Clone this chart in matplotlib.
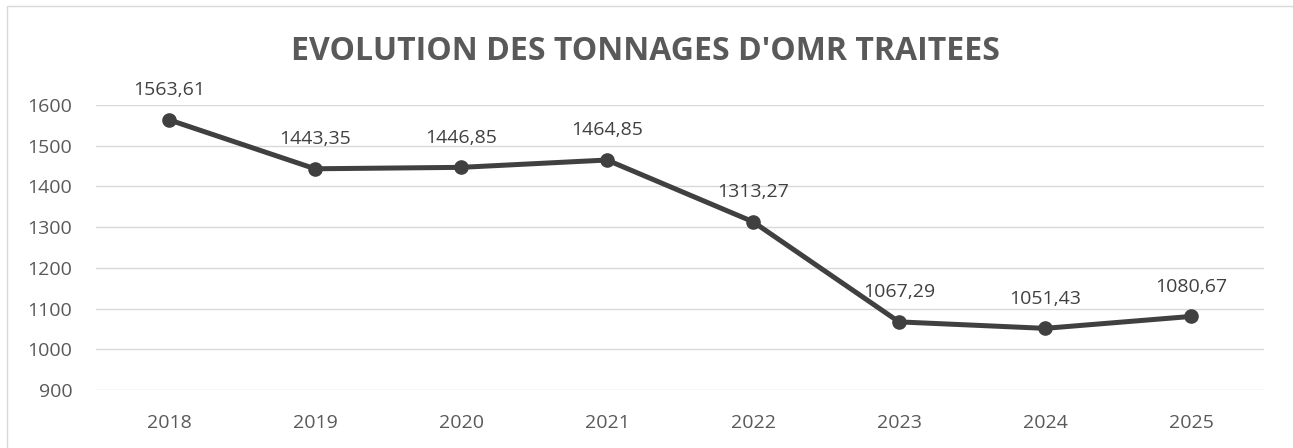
import matplotlib.pyplot as plt
from matplotlib.patches import Rectangle

annees = ['2018', '2019', '2020', '2021', '2022', '2023', '2024', '2025']
tonnages = [1563.61, 1443.35, 1446.85, 1464.85, 1313.27, 1067.29, 1051.43, 1080.67]
graduations = [900, 1000, 1100, 1200, 1300, 1400, 1500, 1600]

plt.rcParams['font.family'] = ['Open Sans', 'DejaVu Sans']

fig = plt.figure(figsize=(12.93, 4.48), dpi=100)
ax = fig.add_axes([96 / 1293, 1 - 390 / 448, (1264 - 96) / 1293, (390 - 105) / 448])

# cadre du graphique
fig.patches.append(Rectangle((7 / 1293, -0.1), 1.1, 1.1 - 6 / 448, transform=fig.transFigure,
                             fill=False, edgecolor='#d9d9d9', linewidth=1))

x = range(len(annees))
ax.plot(x, tonnages, color='#404040', linewidth=3.6, marker='o', markersize=9.5, zorder=3)

for xi, v in zip(x, tonnages):
    etiquette = f'{v:.2f}'.replace('.', ',')
    ax.annotate(etiquette, (xi, v), xytext=(0, 15), textcoords='offset points',
                ha='center', va='bottom', fontsize=14, color='#404040')

ax.set_xlim(-0.5, len(annees) - 0.5)
ax.set_ylim(900, 1600)
ax.set_xticks(list(x))
ax.set_xticklabels(annees)
ax.set_yticks(graduations)
ax.tick_params(length=0, labelsize=14, colors='#595959')
ax.tick_params(axis='x', pad=17)
ax.tick_params(axis='y', pad=17)
ax.grid(axis='y', color='#d9d9d9', linewidth=1)
ax.set_axisbelow(True)
for s in ax.spines.values():
    s.set_visible(False)

fig.text(645 / 1293, 1 - 52 / 448, "EVOLUTION DES TONNAGES D'OMR TRAITEES", ha='center', va='center',
         fontsize=23, fontweight='bold', color='#595959')

fig.savefig('out.png', dpi=100)
